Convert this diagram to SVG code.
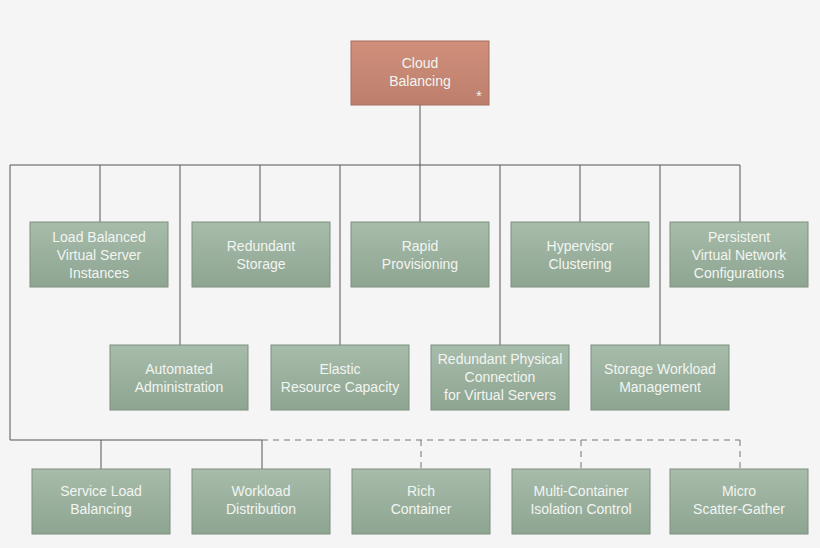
<svg xmlns="http://www.w3.org/2000/svg" width="820" height="548" viewBox="0 0 820 548">
<defs>
<linearGradient id="g" x1="0" y1="0" x2="0" y2="1"><stop offset="0" stop-color="#a7bcaa"/><stop offset="1" stop-color="#8ea592"/></linearGradient>
<linearGradient id="r" x1="0" y1="0" x2="0" y2="1"><stop offset="0" stop-color="#cf8f7b"/><stop offset="1" stop-color="#bd7f6c"/></linearGradient>
<style>
.n{fill:url(#g);stroke:#7c8f80;stroke-width:1}
.t{font-family:"Liberation Sans",Arial,sans-serif;font-size:14px;fill:#f2f5f1;text-anchor:middle}
.c{stroke:#555;stroke-width:1;fill:none}
.d{stroke:#777;stroke-width:1;fill:none;stroke-dasharray:6,5}
</style>
</defs>
<rect width="820" height="548" fill="#f5f5f5"/>
<g id="connectors">
<path class="c" d="M420 105V165M10 165H740M100 165V222M180 165V345M260 165V222M340 165V345M420 165V222M500 165V345M580 165V222M660 165V345M740 165V222M10 165V440H262M101 440V469M262 440V469"/>
<path class="d" d="M262 440H740M421 440V469M581 440V469M740 440V469"/>
</g>
<g id="cloud"><rect x="351" y="41" width="138" height="64" fill="url(#r)" stroke="#a86e5d"/><text class="t" x="420" y="68">Cloud</text><text class="t" x="420" y="86">Balancing</text><text class="t" x="479" y="101" font-size="10">*</text></g>
<g id="n1"><rect class="n" x="30" y="222" width="138" height="65"/><text class="t" x="99" y="242">Load Balanced</text><text class="t" x="99" y="260">Virtual Server</text><text class="t" x="99" y="278">Instances</text></g>
<g id="n2"><rect class="n" x="192" y="222" width="138" height="65"/><text class="t" x="261" y="251">Redundant</text><text class="t" x="261" y="269">Storage</text></g>
<g id="n3"><rect class="n" x="351" y="222" width="138" height="65"/><text class="t" x="420" y="251">Rapid</text><text class="t" x="420" y="269">Provisioning</text></g>
<g id="n4"><rect class="n" x="511" y="222" width="138" height="65"/><text class="t" x="580" y="251">Hypervisor</text><text class="t" x="580" y="269">Clustering</text></g>
<g id="n5"><rect class="n" x="670" y="222" width="138" height="65"/><text class="t" x="739" y="242">Persistent</text><text class="t" x="739" y="260">Virtual Network</text><text class="t" x="739" y="278">Configurations</text></g>
<g id="n6"><rect class="n" x="110" y="345" width="138" height="65"/><text class="t" x="179" y="374">Automated</text><text class="t" x="179" y="392">Administration</text></g>
<g id="n7"><rect class="n" x="271" y="345" width="138" height="65"/><text class="t" x="340" y="374">Elastic</text><text class="t" x="340" y="392">Resource Capacity</text></g>
<g id="n8"><rect class="n" x="431" y="345" width="138" height="65"/><text class="t" x="500" y="364">Redundant Physical</text><text class="t" x="500" y="382">Connection</text><text class="t" x="500" y="400">for Virtual Servers</text></g>
<g id="n9"><rect class="n" x="591" y="345" width="138" height="65"/><text class="t" x="660" y="374">Storage Workload</text><text class="t" x="660" y="392">Management</text></g>
<g id="n10"><rect class="n" x="32" y="469" width="138" height="65"/><text class="t" x="101" y="496">Service Load</text><text class="t" x="101" y="514">Balancing</text></g>
<g id="n11"><rect class="n" x="192" y="469" width="138" height="65"/><text class="t" x="261" y="496">Workload</text><text class="t" x="261" y="514">Distribution</text></g>
<g id="n12"><rect class="n" x="352" y="469" width="138" height="65"/><text class="t" x="421" y="496">Rich</text><text class="t" x="421" y="514">Container</text></g>
<g id="n13"><rect class="n" x="512" y="469" width="138" height="65"/><text class="t" x="581" y="496">Multi-Container</text><text class="t" x="581" y="514">Isolation Control</text></g>
<g id="n14"><rect class="n" x="670" y="469" width="138" height="65"/><text class="t" x="739" y="496">Micro</text><text class="t" x="739" y="514">Scatter-Gather</text></g>
</svg>
